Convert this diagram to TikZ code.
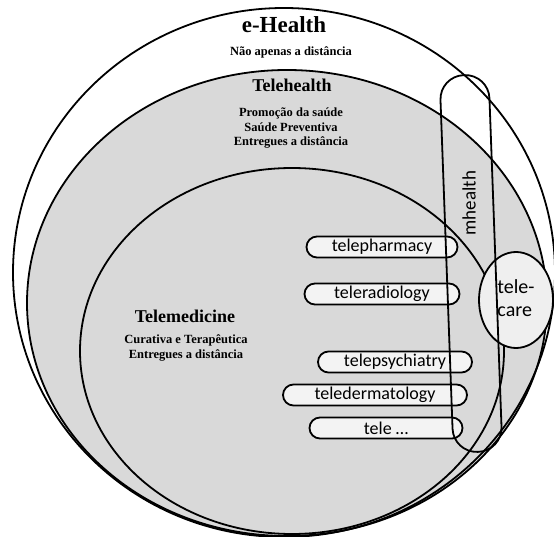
\documentclass[tikz,border=0pt]{standalone}
\usepackage{fontspec}
\setmainfont{Liberation Serif}
\newfontfamily\calib{Carlito}
\usetikzlibrary{shapes.misc,shapes.geometric}
\definecolor{grayfill}{HTML}{D9D9D9}
\definecolor{pillfill}{HTML}{F3F3F3}
\definecolor{carefill}{HTML}{EFEFEF}
\begin{document}
\begin{tikzpicture}[x=1pt,y=-1pt,
  ring/.style={draw=black, line width=1.8pt},
  pill/.style={draw=black, line width=1.8pt, rounded rectangle, fill=pillfill,
    minimum height=21pt, inner sep=0pt, font=\calib\fontsize{18}{20}\selectfont},
  ttl/.style={anchor=base, font=\bfseries\fontsize{18}{20}\selectfont},
  sub/.style={anchor=base, font=\bfseries\fontsize{12.5}{14}\selectfont}]
\useasboundingbox (0,0) rectangle (554,537);
\clip (0,0) rectangle (554,537);
\fill[white] (0,0) rectangle (554,537);
% fills
\fill[white] (284,272.5) ellipse [x radius=271, y radius=264.5];
\fill[grayfill] (287,303) ellipse [x radius=260, y radius=233];
\fill[grayfill] (292,351) ellipse [x radius=212, y radius=183];
% outlines
\draw[ring] (284,272.5) ellipse [x radius=271, y radius=264.5];
\draw[ring] (287,303) ellipse [x radius=260, y radius=233];
\draw[ring] (292,351) ellipse [x radius=212, y radius=183];
% pills
\node[pill, minimum width=151] (pharm) at (382,247) {telepharmacy};
\node[pill, minimum width=155] (radio) at (382,294) {teleradiology};
\node[pill, minimum width=154] (psych) at (395,362) {telepsychiatry};
\node[pill, minimum width=184] (derm) at (375,395) {teledermatology};
\node[pill, minimum width=153] (etc) at (386,428) {tele …};
% telecare
\node[ellipse, draw=black, line width=1.8pt, fill=carefill, minimum width=74, minimum height=96,
  inner sep=0pt, font=\calib\fontsize{20}{23}\selectfont] (care) at (516,300)
  {\begin{tabular}{@{}l@{}}tele-\\care\end{tabular}};
% mhealth
\node[draw=black, line width=1.8pt, rectangle, rounded corners=24pt, minimum width=49,
  minimum height=377, rotate=2.1] (mh) at (471,263.5) {};
\node[rotate=90, font=\calib\fontsize{19}{21}\selectfont] (mhtext) at (469,203) {mhealth};
% texts
\node[anchor=base, font=\bfseries\fontsize{23}{25}\selectfont] (eh) at (284,33) {e-Health};
\node[sub] (eh1) at (291,56) {Não apenas a distância};
\node[ttl] (th) at (292,92) {Telehealth};
\node[sub] (th1) at (291,117) {Promoção da saúde};
\node[sub] (th2) at (291,131.5) {Saúde Preventiva};
\node[sub] (th3) at (291,146) {Entregues a distância};
\node[ttl] (tm) at (185,323) {Telemedicine};
\node[sub] (tm1) at (186,343) {Curativa e Terapêutica};
\node[sub] (tm2) at (186,358) {Entregues a distância};
\end{tikzpicture}
\end{document}
